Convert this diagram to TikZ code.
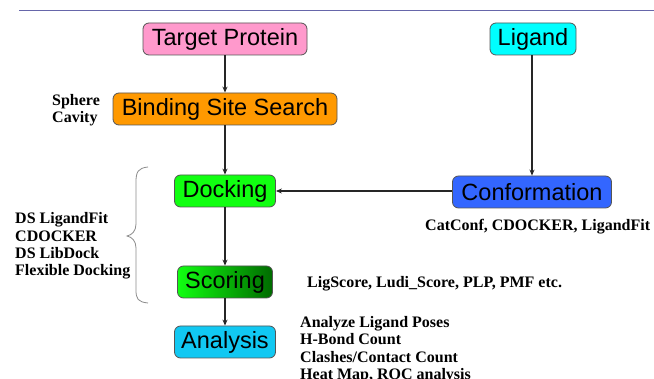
\documentclass[tikz,border=0pt]{standalone}
\usepackage{fontspec}
\setmainfont{Liberation Serif}
\newfontfamily\boxfont{Liberation Sans}
\usetikzlibrary{arrows.meta}
\definecolor{pinkbox}{HTML}{FF99CC}
\definecolor{cyanbox}{HTML}{00FFFF}
\definecolor{orangebox}{HTML}{FF9900}
\definecolor{greenbox}{HTML}{11FF11}
\definecolor{darkgreen}{HTML}{006A00}
\definecolor{bluebox}{HTML}{3366FF}
\definecolor{skybox}{HTML}{11C8F2}
\definecolor{rulecol}{HTML}{6666AA}
\definecolor{bordercol}{HTML}{555555}
\tikzset{
  stage/.style={draw=bordercol, line width=0.8pt, rounded corners=6pt,
    minimum height=32pt, inner sep=0pt,
    font=\boxfont\fontsize{23.5}{26}\selectfont},
  note/.style={align=left, anchor=west, inner sep=0pt,
    font=\bfseries\fontsize{16}{17.4}\selectfont},
  flow/.style={line width=1.4pt, draw=black!85,
    -{Stealth[length=6pt,width=5pt]}},
}
\begin{document}
\begin{tikzpicture}[x=1pt,y=-1pt]
\useasboundingbox (0,0) rectangle (654,379);
\fill[white] (0,0) rectangle (654,379);

% header rule
\draw[rulecol, line width=1pt] (19,11) -- (654,11);

% pipeline stages
\node[stage, fill=pinkbox, minimum width=164pt] (target) at (225,39) {Target Protein};
\node[stage, fill=cyanbox, minimum width=86pt] (ligand) at (533,39) {Ligand};
\node[stage, fill=orangebox, minimum width=224pt] (site) at (225,109) {Binding Site Search};
\node[stage, fill=greenbox, minimum width=101pt] (dock) at (225,191) {Docking};
\node[stage, fill=bluebox, minimum width=159pt] (conf) at (532,192) {Conformation};
\node[stage, left color=greenbox, right color=darkgreen, minimum width=95pt] (score) at (225,282) {Scoring};
\node[stage, fill=skybox, minimum width=101pt] (anal) at (225,342) {Analysis};

% connectors
\draw[flow] (target) -- (site);
\draw[flow] (site) -- (dock);
\draw[flow] (dock) -- (score);
\draw[flow] (score) -- (anal);
\draw[flow] (ligand.south -| conf.north) -- (conf.north);
\draw[flow] (conf.west |- dock.east) -- (dock.east);

% side notes
\node[note] (sitenote) at (52,110) {Sphere\\Cavity};
\node[note] (docknote) at (15,246) {DS LigandFit\\CDOCKER\\DS LibDock\\Flexible Docking};
\node[note] (confnote) at (425,227) {CatConf, CDOCKER, LigandFit};
\node[note] (scorenote) at (307,284) {LigScore, Ludi\_Score, PLP, PMF etc.};
\node[note] (analnote) at (300,349.5) {Analyze Ligand Poses\\H-Bond Count\\Clashes/Contact Count\\Heat Map, ROC analysis};

% brace grouping the docking methods
\draw[black!45, line width=0.8pt]
  (148,167) .. controls (138,168) and (136,172) .. (136,182)
  -- (136,224) .. controls (136,231) and (132,235) .. (127,236)
  .. controls (132,237) and (136,241) .. (136,248)
  -- (136,290) .. controls (136,299) and (138,302) .. (148,303);
\end{tikzpicture}
\end{document}
